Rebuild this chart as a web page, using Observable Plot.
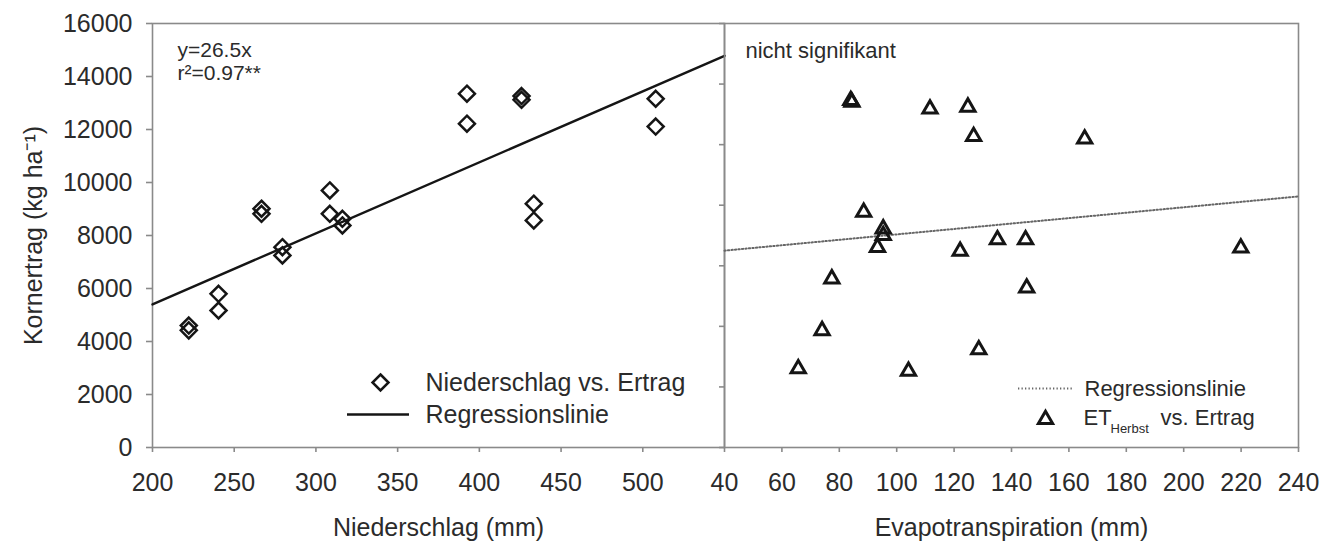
<!DOCTYPE html>
<html><head><meta charset="utf-8">
<script src="https://cdn.jsdelivr.net/npm/d3@7"></script>
<script src="https://cdn.jsdelivr.net/npm/@observablehq/plot@0.6"></script>
<style>
body{margin:0;background:#fff;font-family:"Liberation Sans",Arial,sans-serif;}
#wrap{position:relative;width:1321px;height:542px;overflow:hidden;background:#fff}
#wrap svg{position:absolute;top:0;background:transparent;overflow:visible}
</style></head><body><div id="wrap"></div>
<script>
// Left panel: Niederschlag (mm) vs. Kornertrag (kg/ha)
const niederschlag = [222.2, 222.2, 240.4, 240.4, 266.7, 266.7, 279.5, 279.5, 308.5, 308.5,
                      316.2, 316.2, 392.4, 392.4, 425.8, 425.8, 433.3, 433.3, 507.9, 507.9];
const ertragLinks  = [4600, 4420, 5800, 5170, 9010, 8820, 7560, 7250, 9700, 8820,
                      8630, 8380, 13350, 12220, 13260, 13120, 9200, 8570, 13160, 12110];
const regLinksX = [200, 550];
const regLinksY = [5400, 14780];

// Right panel: Evapotranspiration (mm) vs. Kornertrag (kg/ha)
const evapotranspiration = [84.4, 84.0, 111.6, 124.8, 126.8, 165.5, 88.5, 95.3, 95.3, 93.3,
                            122.1, 135.1, 144.9, 219.9, 77.4, 145.3, 74.0, 65.7, 104.1, 128.6];
const ertragRechts = [11400, 11460, 11180, 11240, 10270, 10190, 7770, 7220, 7000, 6610,
                      6480, 6860, 6860, 6590, 5570, 5270, 3860, 2600, 2520, 3230];
const regRechtsX = [40, 240];
const regRechtsY = [6500, 8290];

// Tick labels
const yTicksLinks = [0, 2000, 4000, 6000, 8000, 10000, 12000, 14000, 16000];
const xTicksLinks = [200, 250, 300, 350, 400, 450, 500];
const yTicksRechts = [0, 2000, 4000, 6000, 8000, 10000, 12000, 14000];
const xTicksRechts = [40, 60, 80, 100, 120, 140, 160, 180, 200, 220, 240];

const FONT = '"Liberation Sans", Arial, sans-serif';
const TXT = "#2b2b2b";
const AX = "#8a8a8a";
const MK = "#151515";
const fmt = d => String(d);

const links = niederschlag.map((x, i) => ({x, y: ertragLinks[i]}));
const regL = regLinksX.map((x, i) => ({x, y: regLinksY[i]}));
const rechts = evapotranspiration.map((x, i) => ({x, y: ertragRechts[i]}));
const regR = regRechtsX.map((x, i) => ({x, y: regRechtsY[i]}));

const lineSym = (half) => ({draw(c) { c.moveTo(-half, 0); c.lineTo(half, 0); }});

const left = Plot.plot({
  width: 726, height: 542,
  marginLeft: 152, marginRight: 2, marginTop: 23, marginBottom: 95,
  x: {domain: [200, 550]},
  y: {domain: [0, 16000]},
  style: {fontFamily: FONT, background: "transparent", overflow: "visible"},
  marks: [
    Plot.frame({stroke: AX, strokeWidth: 1.6}),
    Plot.axisY({ticks: yTicksLinks, tickFormat: fmt, tickSize: 6, tickPadding: 14, fontSize: 25, stroke: AX, strokeWidth: 1.6, fill: TXT, label: null}),
    Plot.axisX({ticks: xTicksLinks, tickFormat: fmt, tickSize: 5, tickPadding: 21, fontSize: 25, stroke: AX, strokeWidth: 1.6, fill: TXT, label: null}),
    Plot.text(["Kornertrag (kg ha\u207B\u00B9)"], {frameAnchor: "left", dx: -119, rotate: -90, textAnchor: "middle", lineAnchor: "middle", fontSize: 25, fill: TXT}),
    Plot.text(["Niederschlag (mm)"], {frameAnchor: "bottom", dy: 80, textAnchor: "middle", lineAnchor: "middle", fontSize: 25, fill: TXT}),
    Plot.line(regL, {x: "x", y: "y", stroke: MK, strokeWidth: 2.4}),
    Plot.dot(links, {x: "x", y: "y", symbol: d3.symbolDiamond2, r: 7.2, stroke: MK, strokeWidth: 2.5, fill: "none"}),
    Plot.text(["y=26.5x"], {frameAnchor: "top-left", dx: 25, dy: 27, textAnchor: "start", lineAnchor: "middle", fontSize: 21, fill: TXT}),
    Plot.text(["r\u00B2=0.97**"], {frameAnchor: "top-left", dx: 25, dy: 50, textAnchor: "start", lineAnchor: "middle", fontSize: 21, fill: TXT}),
    Plot.dot([0], {frameAnchor: "top-left", dx: 228, dy: 359, symbol: d3.symbolDiamond2, r: 7.2, stroke: MK, strokeWidth: 2.5, fill: "none"}),
    Plot.text(["Niederschlag vs. Ertrag"], {frameAnchor: "top-left", dx: 273, dy: 359, textAnchor: "start", lineAnchor: "middle", fontSize: 25, fill: TXT}),
    Plot.dot([0], {frameAnchor: "top-left", dx: 225.5, dy: 391, symbol: lineSym(31), stroke: MK, strokeWidth: 2.4, fill: "none"}),
    Plot.text(["Regressionslinie"], {frameAnchor: "top-left", dx: 273, dy: 391, textAnchor: "start", lineAnchor: "middle", fontSize: 25, fill: TXT})
  ]
});
left.style.left = "0px";

const right = Plot.plot({
  width: 607, height: 542,
  marginLeft: 10, marginRight: 23, marginTop: 23, marginBottom: 95,
  x: {domain: [40, 240]},
  y: {domain: [0, 14000]},
  style: {fontFamily: FONT, background: "transparent", overflow: "visible"},
  marks: [
    Plot.frame({stroke: AX, strokeWidth: 1.6}),
    Plot.axisY({ticks: yTicksRechts, tickSize: 5, tickFormat: () => "", stroke: AX, strokeWidth: 1.6, label: null}),
    Plot.axisX({ticks: xTicksRechts, tickFormat: fmt, tickSize: 5, tickPadding: 21, fontSize: 25, stroke: AX, strokeWidth: 1.6, fill: TXT, label: null}),
    Plot.text(["Evapotranspiration (mm)"], {frameAnchor: "bottom", dy: 80, textAnchor: "middle", lineAnchor: "middle", fontSize: 25, fill: TXT}),
    Plot.line(regR, {x: "x", y: "y", stroke: "#666", strokeWidth: 2, strokeDasharray: "1.3 2.2"}),
    Plot.dot(rechts, {x: "x", y: "y", symbol: d3.symbolTriangle2, r: 6.8, stroke: MK, strokeWidth: 3, fill: "none"}),
    Plot.text(["nicht signifikant"], {frameAnchor: "top-left", dx: 21, dy: 27, textAnchor: "start", lineAnchor: "middle", fontSize: 22, fill: TXT}),
    Plot.dot([0], {frameAnchor: "top-left", dx: 320.5, dy: 365, symbol: lineSym(27), stroke: "#666", strokeWidth: 2, strokeDasharray: "1.3 2.2", fill: "none"}),
    Plot.text(["Regressionslinie"], {frameAnchor: "top-left", dx: 360, dy: 365, textAnchor: "start", lineAnchor: "middle", fontSize: 22, fill: TXT}),
    Plot.dot([0], {frameAnchor: "top-left", dx: 321, dy: 396, symbol: d3.symbolTriangle2, r: 6.8, stroke: MK, strokeWidth: 3, fill: "none"}),
    Plot.text(["ET"], {frameAnchor: "top-left", dx: 359, dy: 394, textAnchor: "start", lineAnchor: "middle", fontSize: 22, fill: TXT}),
    Plot.text(["Herbst"], {frameAnchor: "top-left", dx: 386, dy: 405, textAnchor: "start", lineAnchor: "middle", fontSize: 13, fill: TXT}),
    Plot.text(["vs. Ertrag"], {frameAnchor: "top-left", dx: 436, dy: 394, textAnchor: "start", lineAnchor: "middle", fontSize: 22, fill: TXT})
  ]
});
right.style.left = "714px";

const wrap = document.getElementById("wrap");
wrap.appendChild(left);
wrap.appendChild(right);
</script>
</body></html>
